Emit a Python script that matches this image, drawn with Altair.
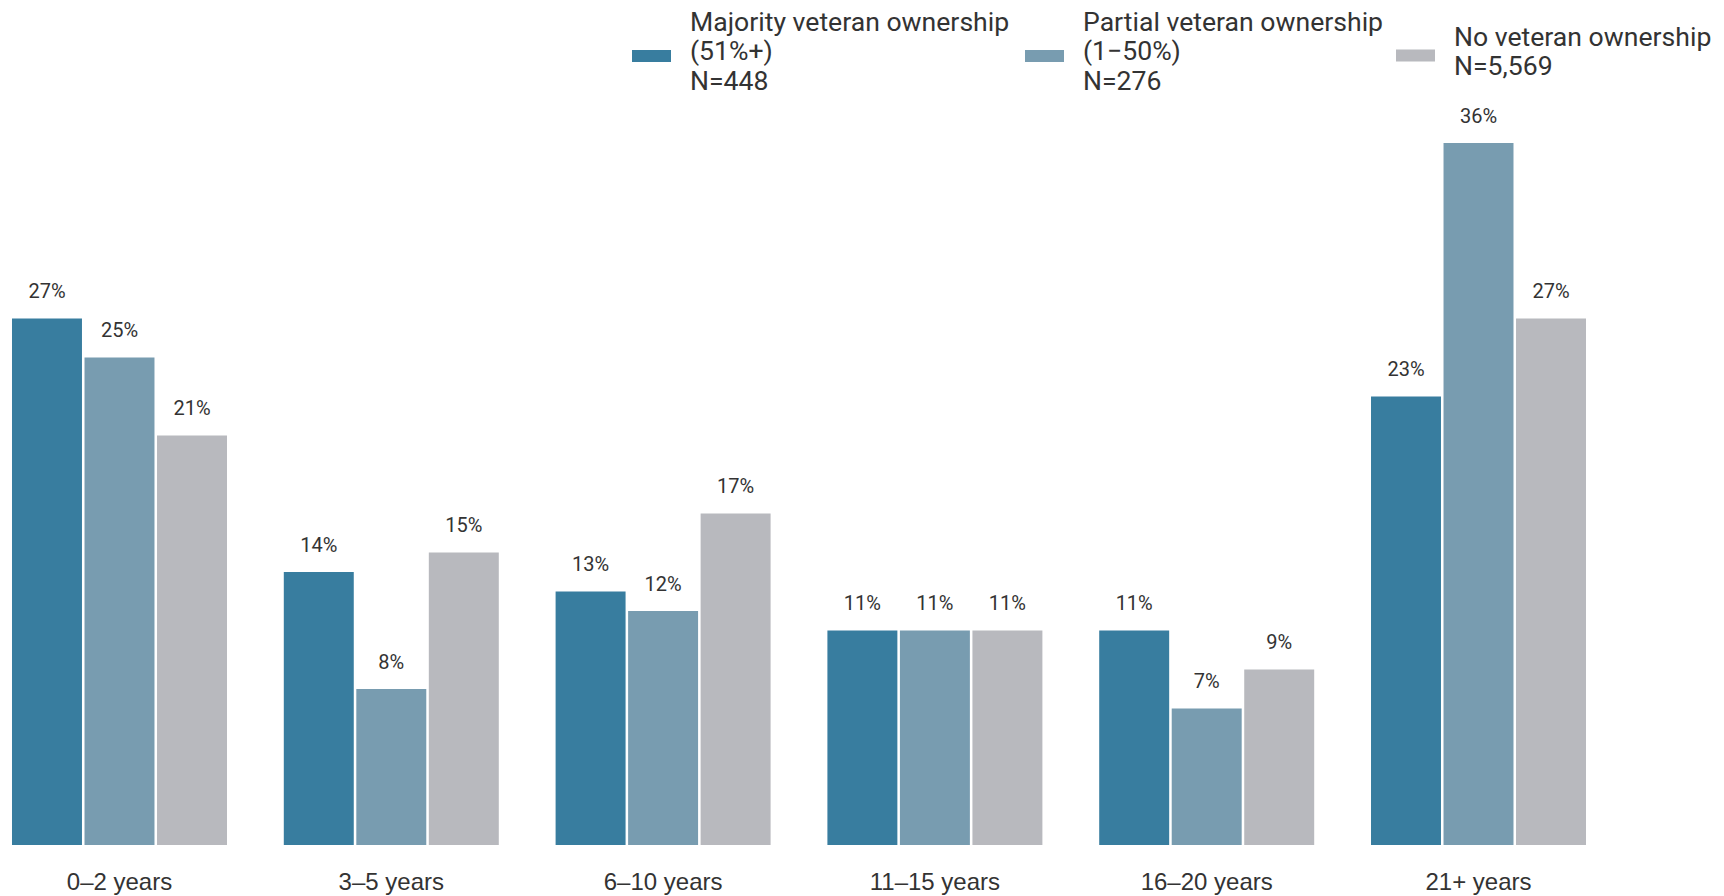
import altair as alt
import pandas as pd

categories = ["0–2 years", "3–5 years", "6–10 years", "11–15 years", "16–20 years", "21+ years"]
series = [
    "Majority veteran ownership\n(51%+)\nN=448",
    "Partial veteran ownership\n(1−50%)\nN=276",
    "No veteran ownership\nN=5,569",
]
majority = [27, 14, 13, 11, 11, 23]
partial = [25, 8, 12, 11, 7, 36]
no_veteran = [21, 15, 17, 11, 9, 27]
colors = ["#387d9f", "#789cb0", "#b8b9be"]

rows = []
for s, vals in zip(series, [majority, partial, no_veteran]):
    for c, v in zip(categories, vals):
        rows.append({"category": c, "series": s, "value": v, "label": f"{v}%"})
df = pd.DataFrame(rows)

x_enc = alt.X(
    "category:N",
    sort=categories,
    scale=alt.Scale(paddingInner=0.209, paddingOuter=0.0147),
    axis=alt.Axis(
        title=None, labelAngle=0, domain=False, ticks=False, grid=False,
        labelPadding=25, labelFont="Liberation Sans", labelFontSize=24,
        labelColor="#333333",
    ),
)
xoff_enc = alt.XOffset("series:N", sort=series, scale=alt.Scale(paddingInner=0.035))
y_scale = alt.Scale(domain=[0, 42.92], nice=False, zero=True)

common_legend = dict(
    title=None, orient="none", direction="horizontal",
    symbolSize=1521, symbolStrokeWidth=0, symbolOpacity=1,
    labelFont="Roboto", labelFontSize=26.6, labelColor="#333333",
    labelLimit=600, labelOffset=19, columnPadding=15, padding=0,
    labelExpr="split(datum.label, '\\n')",
)

bars = alt.Chart(df).mark_bar().encode(
    x=x_enc,
    xOffset=xoff_enc,
    y=alt.Y("value:Q", scale=y_scale, axis=None),
    color=alt.Color(
        "series:N",
        sort=series,
        scale=alt.Scale(domain=series, range=colors),
        legend=alt.Legend(
            values=series[:2], legendX=624, legendY=-5.3,
            symbolType="M-1,1.4H1V2.02H-1Z",
            **common_legend,
        ),
    ),
)

text = alt.Chart(df).mark_text(
    dy=-20, baseline="alphabetic", font="Roboto", fontSize=20, color="#333333"
).encode(
    x=x_enc,
    xOffset=xoff_enc,
    y=alt.Y("value:Q", scale=y_scale, axis=None),
    text="label:N",
)

ghost = alt.Chart(df).mark_bar().encode(
    x=x_enc,
    xOffset=xoff_enc,
    y=alt.datum(0),
    color=alt.Color(
        "series:N",
        sort=series,
        scale=alt.Scale(domain=series, range=colors),
        legend=alt.Legend(
            values=series[2:], legendX=1388, legendY=10.2,
            symbolType="M-1,0.6H1V1.22H-1Z",
            **common_legend,
        ),
    ),
)

chart = (
    alt.layer(bars, text, ghost)
    .resolve_scale(color="independent")
    .properties(
        width=1582, height=837,
        autosize=alt.AutoSizeParams(type="none"),
        padding={"top": 0, "left": 0, "right": 124, "bottom": 56},
    )
    .configure(style={"guide-label": {"lineHeight": 29.5}})
    .configure_view(strokeWidth=0)
)

chart.save("out.html", embed_options={"renderer": "svg", "actions": False})
